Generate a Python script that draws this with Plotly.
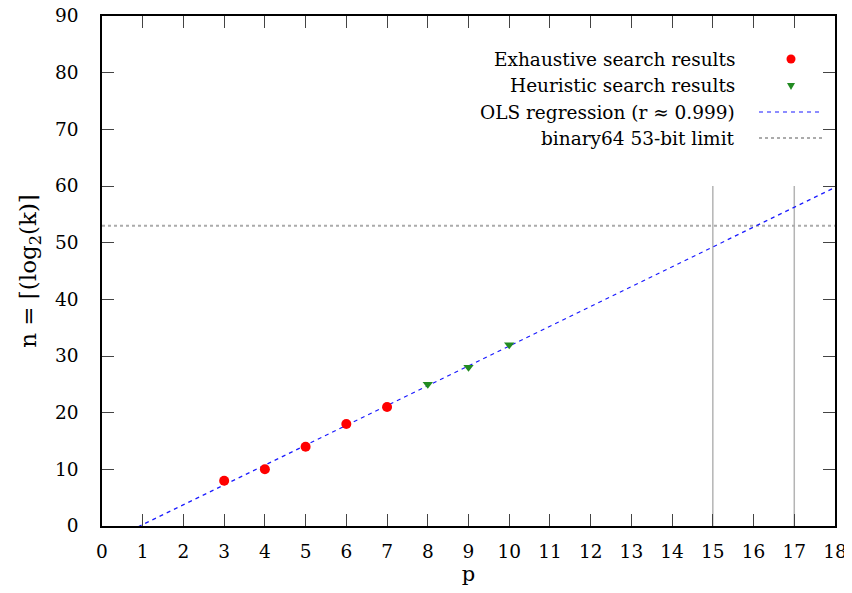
import numpy as np
import plotly.graph_objects as go

# ---- data ----
exhaustive_p = [3, 4, 5, 6, 7]
exhaustive_n = [8, 10, 14, 18, 21]
heuristic_p = [8, 9, 10]
heuristic_n = [25, 28, 32]
binary64_limit = 53
marker_p = [15, 17]
marker_top = 60
x_range = [0, 18]
y_range = [0, 90]

legend_labels = [
    "Exhaustive search results",
    "Heuristic search results",
    "OLS regression (r \u2248 0.999)",
    "binary64 53-bit limit",
]

# OLS regression over all points
all_p = np.array(exhaustive_p + heuristic_p, dtype=float)
all_n = np.array(exhaustive_n + heuristic_n, dtype=float)
slope, intercept = np.polyfit(all_p, all_n, 1)
reg_x = np.array(x_range, dtype=float)
reg_y = slope * reg_x + intercept

# page has an 8px body margin; work in page pixels and offset
OFF = 8
W, H = 852 - OFF, 593 - OFF
L, R, T, B = 102 - OFF, 835 - OFF, 16 - OFF, 526 - OFF
FONT = "DejaVu Serif"
FS = 18.5

fig = go.Figure()

# vertical reference lines
for p in marker_p:
    fig.add_trace(go.Scatter(x=[p, p], y=[0, marker_top], mode="lines",
                             line=dict(color="#b4b4b4", width=1.5),
                             showlegend=False, hoverinfo="skip"))
# binary64 limit
fig.add_trace(go.Scatter(x=x_range, y=[binary64_limit, binary64_limit], mode="lines",
                         line=dict(color="#ababab", width=2, dash="3px,3px"),
                         showlegend=False, hoverinfo="skip"))
# regression
fig.add_trace(go.Scatter(x=reg_x, y=reg_y, mode="lines",
                         line=dict(color="#1a1aff", width=1.2, dash="4px,4px"),
                         showlegend=False))
# exhaustive
fig.add_trace(go.Scatter(x=exhaustive_p, y=exhaustive_n, mode="markers",
                         marker=dict(color="#ff0000", size=10, symbol="circle"),
                         showlegend=False))
# heuristic
fig.add_trace(go.Scatter(x=heuristic_p, y=heuristic_n, mode="markers",
                         marker=dict(color="#228b22", size=9, symbol="triangle-down"),
                         showlegend=False))

def px(x):
    x = x - OFF
    return (x - L) / (R - L)

def py(y):
    y = y - OFF
    return (B - y) / (B - T)

# custom legend (text right-aligned, key on the right), page-pixel positions
rows_y = [59, 86, 112, 138]
text_right = 737
key_cx = 791
shapes = []
annotations = []
for lbl, ry in zip(legend_labels, rows_y):
    annotations.append(dict(xref="paper", yref="paper", x=px(text_right), y=py(ry),
                            text=lbl, showarrow=False, xanchor="right", yanchor="middle",
                            font=dict(family=FONT, size=FS, color="black")))
# circle key
r = 4.5
shapes.append(dict(type="circle", xref="paper", yref="paper",
                   x0=px(key_cx - r), x1=px(key_cx + r), y0=py(rows_y[0] + r), y1=py(rows_y[0] - r),
                   fillcolor="#ff0000", line=dict(width=0)))
# triangle key
ty = rows_y[1]
path = "M {} {} L {} {} L {} {} Z".format(px(key_cx - 4), py(ty - 3), px(key_cx + 4), py(ty - 3), px(key_cx), py(ty + 4))
shapes.append(dict(type="path", xref="paper", yref="paper", path=path,
                   fillcolor="#228b22", line=dict(width=0)))
# dashed keys
shapes.append(dict(type="line", xref="paper", yref="paper",
                   x0=px(759), x1=px(820), y0=py(rows_y[2]), y1=py(rows_y[2]),
                   line=dict(color="#1a1aff", width=1.2, dash="4px,4px")))
shapes.append(dict(type="line", xref="paper", yref="paper",
                   x0=px(759), x1=px(822), y0=py(rows_y[3]), y1=py(rows_y[3]),
                   line=dict(color="#ababab", width=2, dash="3px,3px")))

axis_common = dict(showline=True, linecolor="black", linewidth=1.5, mirror="ticks",
                   ticks="inside", ticklen=12, tickwidth=1, tickcolor="#444",
                   showgrid=False, zeroline=False, automargin=False,
                   ticklabeloverflow="allow",
                   tickfont=dict(family=FONT, size=FS, color="black"))

fig.update_layout(
    width=W, height=H,
    margin=dict(l=L, r=W - R, t=T, b=H - B, autoexpand=False),
    plot_bgcolor="white", paper_bgcolor="white",
    showlegend=False,
    shapes=shapes, annotations=annotations,
    xaxis=dict(range=x_range, dtick=1, tick0=0, ticklabelstandoff=8,
               title=dict(text="p", font=dict(family=FONT, size=21, color="black"), standoff=2),
               **axis_common),
    yaxis=dict(range=y_range, dtick=10, tick0=0, ticklabelstandoff=18,
               title=dict(text="n = \u2308(log<sub>2</sub>(k)\u2309", font=dict(family=FONT, size=23, color="black"), standoff=12),
               **axis_common),
)

fig.write_html("out.html")
